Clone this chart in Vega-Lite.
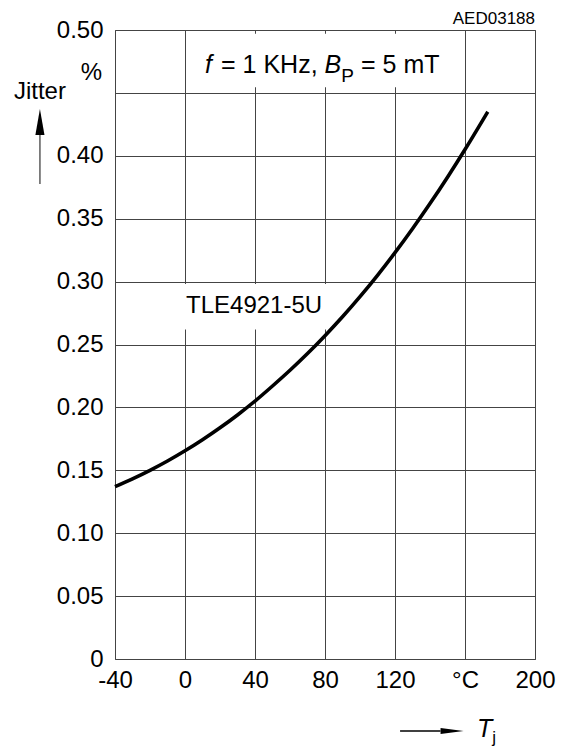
{
  "$schema": "https://vega.github.io/schema/vega-lite/v6.json",
  "width": 420,
  "height": 629,
  "autosize": "none",
  "padding": {"left": 115, "top": 30, "right": 30, "bottom": 90},
  "background": "white",
  "config": {
    "view": {"stroke": "#555", "strokeWidth": 1},
    "font": "Liberation Sans",
    "text": {"font": "Liberation Sans", "color": "black"}
  },
  "datasets": {
    "curve": [
      {"T": -40, "J": 0.137},
      {"T": -30, "J": 0.1432},
      {"T": -20, "J": 0.1500},
      {"T": -10, "J": 0.1574},
      {"T": 0, "J": 0.1655},
      {"T": 10, "J": 0.1743},
      {"T": 20, "J": 0.1838},
      {"T": 30, "J": 0.1940},
      {"T": 40, "J": 0.2050},
      {"T": 50, "J": 0.2170},
      {"T": 60, "J": 0.2295},
      {"T": 70, "J": 0.2428},
      {"T": 80, "J": 0.2570},
      {"T": 90, "J": 0.2720},
      {"T": 100, "J": 0.2880},
      {"T": 110, "J": 0.3050},
      {"T": 120, "J": 0.3230},
      {"T": 130, "J": 0.3420},
      {"T": 140, "J": 0.3620},
      {"T": 150, "J": 0.3830},
      {"T": 160, "J": 0.4050},
      {"T": 170, "J": 0.4280},
      {"T": 173, "J": 0.4350}
    ],
    "boxes": [
      {"T": 4, "T2": 150, "J": 0.4545, "J2": 0.497},
      {"T": -4, "T2": 83, "J": 0.262, "J2": 0.298}
    ]
  },
  "encoding": {
    "x": {
      "field": "T",
      "type": "quantitative",
      "scale": {"domain": [-40, 200], "nice": false, "zero": false},
      "axis": {
        "values": [-40, 0, 40, 80, 120, 160, 200],
        "labelExpr": "datum.value == 160 ? '°C' : (datum.value < 0 ? '-' + abs(datum.value) : '' + datum.value)",
        "title": null,
        "grid": true,
        "gridColor": "#444",
        "gridWidth": 1,
        "gridOpacity": 1,
        "ticks": false,
        "tickSize": 0,
        "domain": false,
        "labelPadding": 9,
        "labelFontSize": 24,
        "labelFont": "Liberation Sans",
        "labelColor": "black",
        "labelFlush": false,
        "labelOverlap": false
      }
    },
    "y": {
      "field": "J",
      "type": "quantitative",
      "scale": {"domain": [0, 0.5], "nice": false},
      "axis": {
        "values": [0, 0.05, 0.1, 0.15, 0.2, 0.25, 0.3, 0.35, 0.4, 0.45, 0.5],
        "labelExpr": "datum.value == 0 ? '0' : (abs(datum.value - 0.45) < 0.001 ? '' : format(datum.value, '.2f'))",
        "title": null,
        "grid": true,
        "gridColor": "#444",
        "gridWidth": 1,
        "gridOpacity": 1,
        "ticks": false,
        "tickSize": 0,
        "domain": false,
        "labelPadding": 12,
        "labelFontSize": 24,
        "labelFont": "Liberation Sans",
        "labelColor": "black",
        "labelFlush": false,
        "labelOverlap": false
      }
    }
  },
  "layer": [
    {
      "data": {"name": "boxes"},
      "mark": {"type": "rect", "fill": "white", "stroke": null},
      "encoding": {"x2": {"field": "T2"}, "y2": {"field": "J2"}}
    },
    {
      "data": {"name": "curve"},
      "mark": {"type": "line", "color": "black", "strokeWidth": 3.6, "interpolate": "monotone"}
    },
    {
      "data": {"values": [{"T": -82.9, "J": 0.3776, "J2": 0.4165}]},
      "mark": {"type": "rule", "color": "#666", "strokeWidth": 1.6},
      "encoding": {"y2": {"field": "J2"}}
    },
    {
      "data": {"values": [{"T": 122.9, "T2": 146, "J": -0.0572}]},
      "mark": {"type": "rule", "color": "black", "strokeWidth": 1.4},
      "encoding": {"x2": {"field": "T2"}}
    },
    {
      "data": {"values": [{"T": -82.9, "J": 0.4269}]},
      "mark": {"type": "point", "shape": "M-0.35,1L0,-1L0.35,1Z", "size": 676, "filled": true, "color": "black", "opacity": 1}
    },
    {
      "data": {"values": [{"T": 152.6, "J": -0.0572}]},
      "mark": {"type": "point", "shape": "M-1,-0.26L1,0L-1,0.26Z", "size": 529, "filled": true, "color": "black", "opacity": 1}
    },
    {
      "data": {"values": [
        {"T": 0.6, "J": 0.275, "text": "TLE4921-5U"}
      ]},
      "mark": {"type": "text", "fontSize": 24, "align": "left", "baseline": "alphabetic"},
      "encoding": {"text": {"field": "text"}}
    },
    {
      "data": {"values": [
        {"T": 20.6, "J": 0.4658, "text": "= 1 KHz,"},
        {"T": 100.6, "J": 0.4658, "text": "= 5 mT"}
      ]},
      "mark": {"type": "text", "fontSize": 25, "align": "left", "baseline": "alphabetic"},
      "encoding": {"text": {"field": "text"}}
    },
    {
      "data": {"values": [
        {"T": 11.4, "J": 0.4658, "text": "f"},
        {"T": 79.7, "J": 0.4658, "text": "B"}
      ]},
      "mark": {"type": "text", "fontSize": 25, "fontStyle": "italic", "align": "left", "baseline": "alphabetic"},
      "encoding": {"text": {"field": "text"}}
    },
    {
      "data": {"values": [{"T": 89.3, "J": 0.459, "text": "P"}]},
      "mark": {"type": "text", "fontSize": 19, "align": "left", "baseline": "alphabetic"},
      "encoding": {"text": {"field": "text"}}
    },
    {
      "data": {"values": [{"T": 200, "J": 0.5048, "text": "AED03188"}]},
      "mark": {"type": "text", "fontSize": 17, "align": "right", "baseline": "alphabetic"},
      "encoding": {"text": {"field": "text"}}
    },
    {
      "data": {"values": [{"T": -82.9, "J": 0.445, "text": "Jitter"}]},
      "mark": {"type": "text", "fontSize": 24, "align": "center", "baseline": "alphabetic"},
      "encoding": {"text": {"field": "text"}}
    },
    {
      "data": {"values": [{"T": -47.4, "J": 0.4603, "text": "%"}]},
      "mark": {"type": "text", "fontSize": 24, "align": "right", "baseline": "alphabetic"},
      "encoding": {"text": {"field": "text"}}
    },
    {
      "data": {"values": [{"T": 166.9, "J": -0.062, "text": "T"}]},
      "mark": {"type": "text", "fontSize": 25, "fontStyle": "italic", "align": "left", "baseline": "alphabetic"},
      "encoding": {"text": {"field": "text"}}
    },
    {
      "data": {"values": [{"T": 175.6, "J": -0.0668, "text": "j"}]},
      "mark": {"type": "text", "fontSize": 17, "align": "left", "baseline": "alphabetic"},
      "encoding": {"text": {"field": "text"}}
    }
  ]
}
